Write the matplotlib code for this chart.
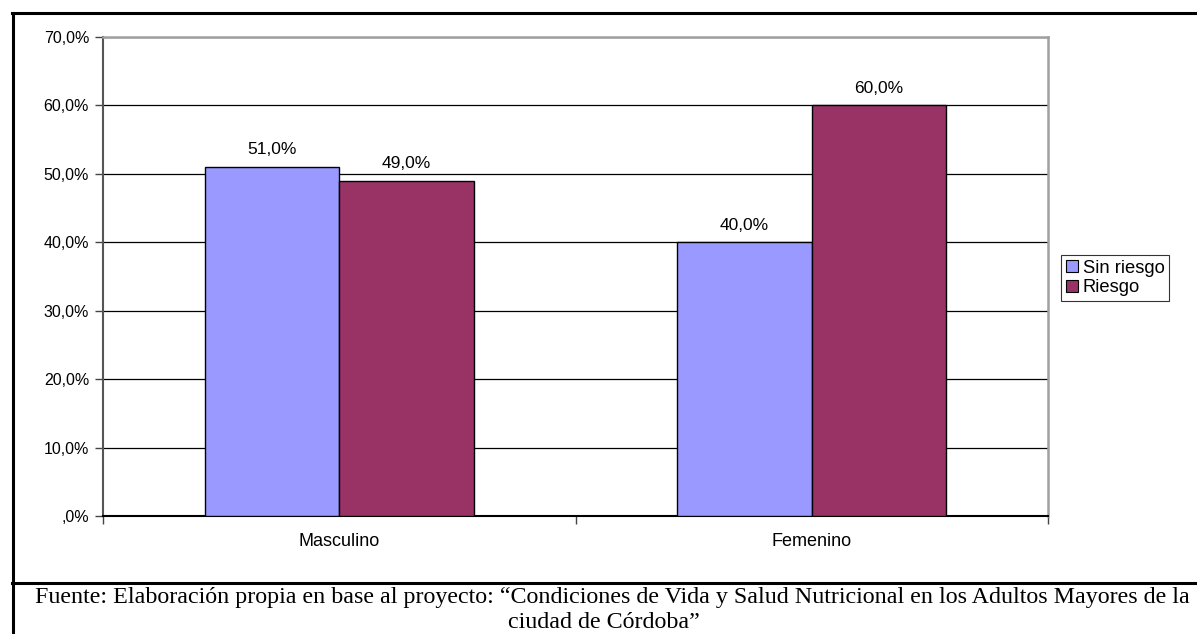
import matplotlib
matplotlib.use("Agg")
import matplotlib.pyplot as plt
from matplotlib.lines import Line2D
from matplotlib.patches import Patch

# Data
categories = ["Masculino", "Femenino"]
series_names = ["Sin riesgo", "Riesgo"]
sin_riesgo = [51.0, 40.0]
riesgo = [49.0, 60.0]
yticks = [0, 10, 20, 30, 40, 50, 60, 70]
ytick_labels = [",0%", "10,0%", "20,0%", "30,0%", "40,0%", "50,0%", "60,0%", "70,0%"]
caption_lines = ["Fuente: Elaboración propia en base al proyecto: \u201cCondiciones de Vida y Salud "
                 "Nutricional en los Adultos Mayores de la",
                 "ciudad de Córdoba\u201d"]

colors = ["#9999FF", "#993366"]
W, H = 1197, 634
fig = plt.figure(figsize=(W / 100, H / 100), dpi=100)

def fx(px):
    return px / W

def fy(py):
    return 1 - py / H

# Outer frame lines (table cell borders)
fig.add_artist(Line2D([fx(12), 1.0], [fy(12.5), fy(12.5)], color="black", lw=2.2))
fig.add_artist(Line2D([fx(12.5), fx(12.5)], [fy(13), 0], color="black", lw=2.2))
fig.add_artist(Line2D([fx(12), 1.0], [fy(583), fy(583)], color="black", lw=2.2))

# Plot area
left, right, top, bottom = 103, 1048, 37, 516
ax = fig.add_axes([fx(left), fy(bottom), fx(right - left), (bottom - top) / H])

x = [0, 1]
bw = 0.285
ax.bar([i - bw / 2 for i in x], sin_riesgo, width=bw, color=colors[0],
       edgecolor="black", linewidth=1.0, zorder=3, label=series_names[0])
ax.bar([i + bw / 2 for i in x], riesgo, width=bw, color=colors[1],
       edgecolor="black", linewidth=1.0, zorder=3, label=series_names[1])

label_font = {"family": "Liberation Sans", "size": 12.5}
for i in x:
    ax.text(i - bw / 2, sin_riesgo[i] + 1.4, f"{sin_riesgo[i]:.1f}%".replace(".", ","),
            ha="center", va="bottom", **label_font)
    ax.text(i + bw / 2, riesgo[i] + 1.4, f"{riesgo[i]:.1f}%".replace(".", ","),
            ha="center", va="bottom", **label_font)

ax.set_xlim(-0.5, 1.5)
ax.set_ylim(0, 70)
ax.set_yticks(yticks)
ax.set_yticklabels(ytick_labels, fontsize=11.5, family="Liberation Sans")
ax.yaxis.grid(True, color="black", linewidth=0.9, zorder=0)
ax.set_axisbelow(True)

# Category ticks at group boundaries, labels at centres
ax.set_xticks([-0.5, 0.5, 1.5])
ax.set_xticklabels([])
ax.set_xticks([0, 1], minor=True)
ax.set_xticklabels(categories, minor=True, fontsize=13, family="Liberation Sans")
ax.tick_params(axis="x", which="minor", length=0, pad=12)
ax.tick_params(axis="x", which="major", length=6, color="#444444", width=1)
ax.tick_params(axis="y", length=6, color="#444444", width=1, pad=4)

for s in ["top", "right"]:
    ax.spines[s].set_color("#A0A0A0")
    ax.spines[s].set_linewidth(1.8)
ax.spines["left"].set_color("#555555")
ax.spines["left"].set_linewidth(1.5)
ax.spines["bottom"].set_color("black")
ax.spines["bottom"].set_linewidth(1.5)

handles = [Patch(facecolor=c, edgecolor="black", linewidth=0.8) for c in colors]
leg = fig.legend(handles, series_names, loc="upper left",
                 bbox_to_anchor=(fx(1061), fy(255)), frameon=True, fancybox=False,
                 edgecolor="black", prop={"family": "Liberation Sans", "size": 13.2},
                 handlelength=0.65, handleheight=0.65, handletextpad=0.3,
                 borderpad=0.25, labelspacing=0.15, borderaxespad=0)
leg.get_frame().set_linewidth(0.8)

fig.text(fx(612), fy(598), caption_lines[0], ha="center", va="center",
         fontsize=17.3, family="Liberation Serif")
fig.text(fx(604), fy(622), caption_lines[1], ha="center", va="center",
         fontsize=17.3, family="Liberation Serif")

fig.savefig("out.png", dpi=100, facecolor="white")
